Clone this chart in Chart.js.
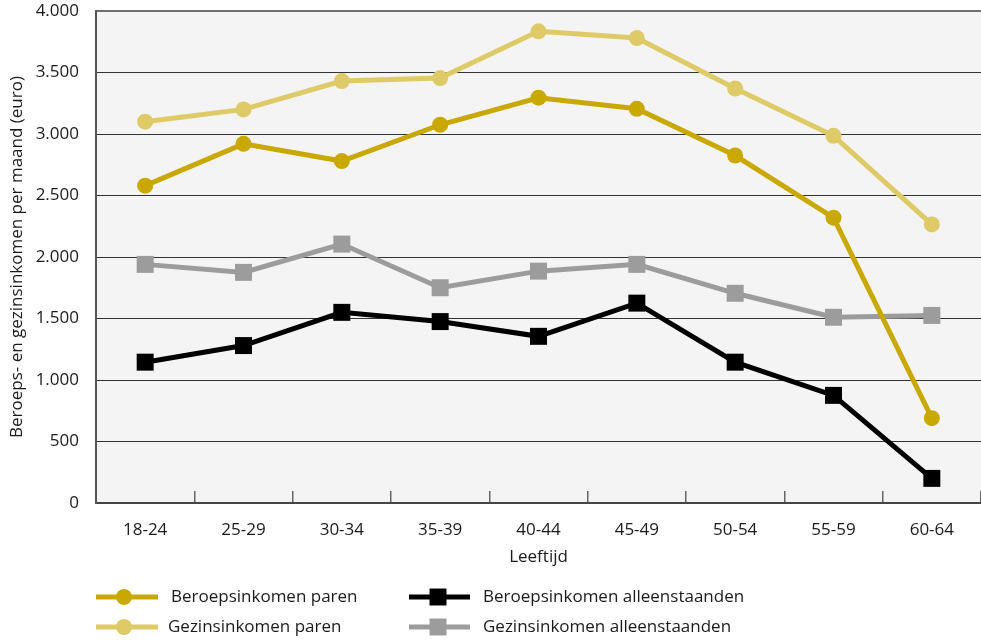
<!DOCTYPE html>
<html lang="nl">
<head>
<meta charset="utf-8">
<title>Inkomen naar leeftijd</title>
<script src="https://cdn.jsdelivr.net/npm/chart.js@4.4.1/dist/chart.umd.min.js"></script>
<style>
  html, body { margin: 0; padding: 0; background: #ffffff; }
  #incomeChart { display: block; }
</style>
</head>
<body>
<canvas id="incomeChart" width="981" height="640"></canvas>
<script>
// Data
const ageGroups = ['18-24', '25-29', '30-34', '35-39', '40-44', '45-49', '50-54', '55-59', '60-64'];
const beroepsParen = [2580, 2920, 2780, 3075, 3295, 3205, 2825, 2320, 690];
const gezinsParen = [3100, 3200, 3430, 3455, 3835, 3780, 3370, 2985, 2265];
const beroepsAlleen = [1145, 1280, 1550, 1475, 1355, 1625, 1145, 875, 200];
const gezinsAlleen = [1940, 1875, 2105, 1750, 1885, 1940, 1705, 1510, 1525];

const yMin = 0;
const yMax = 4000;
const yStep = 500;

const FONT = "'Open Sans', sans-serif";
const FONT_SIZE = 17;
const TEXT_COLOR = '#1a1a1a';

// 4000 -> "4.000"
function formatEuro(value) {
    return String(value).replace(/\B(?=(\d{3})+(?!\d))/g, '.');
}

// Grey plot background
const plotBackground = {
    id: 'plotBackground',
    beforeDraw(chart) {
        const { ctx, chartArea } = chart;
        ctx.save();
        ctx.fillStyle = '#f4f4f4';
        ctx.fillRect(chartArea.left, chartArea.top, chartArea.right - chartArea.left, chartArea.bottom - chartArea.top);
        ctx.restore();
    }
};

// Two-column legend under the chart
const legendSlots = [
    { lineX1: 96, lineX2: 158, markX: 124, textX: 171, y: 597 },
    { lineX1: 96, lineX2: 158, markX: 124, textX: 168, y: 627 },
    { lineX1: 409, lineX2: 470, markX: 438, textX: 483, y: 597 },
    { lineX1: 409, lineX2: 470, markX: 438, textX: 483, y: 627 }
];

const gridLegend = {
    id: 'gridLegend',
    afterDraw(chart) {
        const ctx = chart.ctx;
        ctx.save();
        chart.data.datasets.forEach(function(ds, i) {
            const slot = legendSlots[i];
            ctx.strokeStyle = ds.borderColor;
            ctx.lineWidth = ds.borderWidth;
            ctx.beginPath();
            ctx.moveTo(slot.lineX1, slot.y);
            ctx.lineTo(slot.lineX2, slot.y);
            ctx.stroke();
            ctx.fillStyle = ds.pointBackgroundColor;
            Chart.helpers.drawPoint(ctx, { pointStyle: ds.pointStyle, radius: ds.pointRadius, borderWidth: 0 }, slot.markX, slot.y);
            ctx.fillStyle = TEXT_COLOR;
            ctx.font = FONT_SIZE + 'px ' + FONT;
            ctx.textAlign = 'left';
            ctx.textBaseline = 'middle';
            ctx.fillText(ds.label, slot.textX, slot.y);
        });
        ctx.restore();
    }
};

function lineSet(label, values, color, style, radius) {
    return {
        label: label,
        data: values,
        borderColor: color,
        backgroundColor: color,
        borderWidth: 5,
        pointStyle: style,
        pointRadius: radius,
        pointHoverRadius: radius,
        pointBackgroundColor: color,
        pointBorderWidth: 0,
        tension: 0,
        fill: false
    };
}

new Chart(document.getElementById('incomeChart'), {
    type: 'line',
    data: {
        labels: ageGroups,
        datasets: [
            lineSet('Beroepsinkomen paren', beroepsParen, '#c9a900', 'circle', 8),
            lineSet('Gezinsinkomen paren', gezinsParen, '#dfca68', 'circle', 8),
            lineSet('Beroepsinkomen alleenstaanden', beroepsAlleen, '#000000', 'rect', 12),
            lineSet('Gezinsinkomen alleenstaanden', gezinsAlleen, '#9c9c9c', 'rect', 12)
        ]
    },
    options: {
        responsive: false,
        animation: false,
        layout: {
            autoPadding: false,
            padding: { top: 11, right: 0, bottom: 70, left: 0 }
        },
        plugins: {
            legend: { display: false },
            tooltip: { enabled: false }
        },
        scales: {
            x: {
                offset: true,
                grid: {
                    offset: true,
                    drawOnChartArea: false,
                    drawTicks: true,
                    tickLength: -12,
                    color: '#666666',
                    lineWidth: 1.5
                },
                border: { display: true, color: '#444444', width: 2 },
                ticks: {
                    color: TEXT_COLOR,
                    font: { family: FONT, size: FONT_SIZE },
                    padding: 29,
                    maxRotation: 0
                },
                title: {
                    display: true,
                    text: 'Leeftijd',
                    color: TEXT_COLOR,
                    font: { family: FONT, size: FONT_SIZE },
                    padding: { top: 0, bottom: 3 }
                },
                afterFit(scale) {
                    scale.height = 67;
                    scale.paddingLeft = 0;
                    scale.paddingRight = 0;
                }
            },
            y: {
                min: yMin,
                max: yMax,
                grid: {
                    drawTicks: false,
                    color: function(ctx) {
                        if (ctx.tick.value === yMax) return '#707070';
                        if (ctx.tick.value === yMin) return 'rgba(0,0,0,0)';
                        return '#333333';
                    },
                    lineWidth: function(ctx) {
                        return ctx.tick.value === yMax ? 2 : 1;
                    }
                },
                border: { display: true, color: '#555555', width: 2 },
                ticks: {
                    stepSize: yStep,
                    color: TEXT_COLOR,
                    font: { family: FONT, size: FONT_SIZE },
                    padding: 17,
                    callback: function(value) { return formatEuro(value); }
                },
                title: {
                    display: true,
                    text: 'Beroeps- en gezinsinkomen per maand (euro)',
                    color: TEXT_COLOR,
                    font: { family: FONT, size: FONT_SIZE },
                    padding: { top: 7, bottom: 0 }
                },
                afterFit(scale) {
                    scale.width = 96;
                    scale.paddingTop = 0;
                    scale.paddingBottom = 0;
                }
            }
        }
    },
    plugins: [plotBackground, gridLegend]
});
</script>
</body>
</html>
